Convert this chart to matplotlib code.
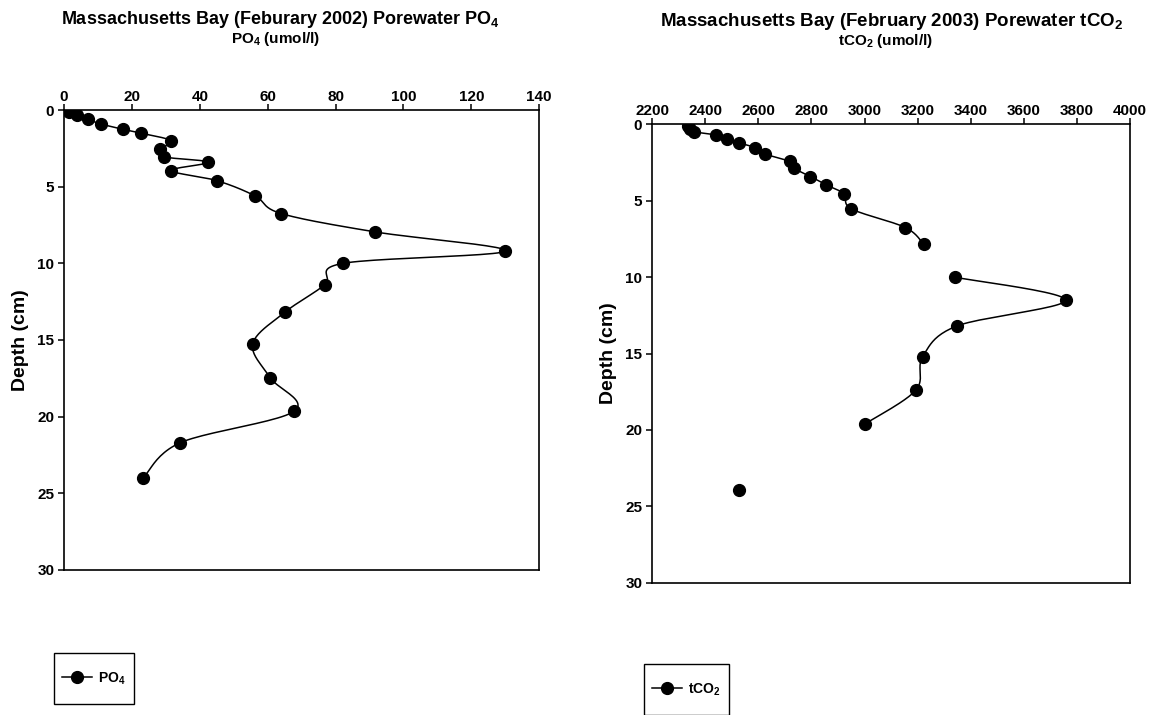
import numpy as np
import matplotlib
matplotlib.use("Agg")
import matplotlib.pyplot as plt
from matplotlib import font_manager
from matplotlib.legend_handler import HandlerLine2D

# PO4 profile, Feb 2002
po4_depth = [0.1, 0.3, 0.6, 0.9, 1.25, 1.5, 2.0, 2.55, 3.05, 3.4, 3.95, 4.6, 5.6,
             6.75, 7.95, 9.2, 10.0, 11.4, 13.2, 15.25, 17.45, 19.65, 21.7, 24.0]
po4_value = [1.5, 3.8, 7.0, 10.8, 17.3, 22.6, 31.6, 28.4, 29.5, 42.5, 31.6, 45.0, 56.3,
             64.0, 91.7, 130.0, 82.2, 76.8, 65.0, 55.6, 60.7, 67.8, 34.3, 23.4]

# tCO2 profile, Feb 2003 (nan = break in the line)
tco2_depth = [0.08, 0.29, 0.48, 0.69, 0.98, 1.22, 1.52, 1.94, 2.42, 2.85, 3.41, 3.96,
              4.55, 5.53, 6.75, 7.85, 9.0, 10.0, 11.5, 13.2, 15.2, 17.4, 19.6, 22.0, 23.9]
tco2_value = [2334, 2342, 2357, 2440, 2482, 2529, 2588, 2626, 2718, 2733, 2796, 2856,
              2923, 2951, 3154, 3223, np.nan, 3340, 3757, 3347, 3219, 3193, 3002, np.nan, 2528]

po4_ticks = [0, 20, 40, 60, 80, 100, 120, 140]
tco2_ticks = [2200, 2400, 2600, 2800, 3000, 3200, 3400, 3600, 3800, 4000]
depth_ticks = [0, 5, 10, 15, 20, 25, 30]

names = {f.name for f in font_manager.fontManager.ttflist}
narrow = "Liberation Sans Narrow" if "Liberation Sans Narrow" in names else "Liberation Sans"
plt.rcParams["font.family"] = [narrow, "DejaVu Sans"]
plt.rcParams["mathtext.fontset"] = "custom"
plt.rcParams["mathtext.rm"] = narrow + ":bold"
plt.rcParams["mathtext.default"] = "rm"


def smooth(xs, ys, xspan, yspan, n=24):
    # excel style smoothed line: bezier through points, split on nan
    xs = np.asarray(xs, float)
    ys = np.asarray(ys, float)
    out_x, out_y = [], []
    ok = ~np.isnan(xs)
    idx = np.where(ok)[0]
    groups = np.split(idx, np.where(np.diff(idx) > 1)[0] + 1)
    for g in groups:
        if len(g) < 2:
            continue
        P = np.column_stack([xs[g] / xspan, ys[g] / yspan])
        pts = [P[0]]
        t = np.linspace(0, 1, n)[1:, None]
        for i in range(len(P) - 1):
            p0 = P[i - 1] if i > 0 else P[i]
            p1, p2 = P[i], P[i + 1]
            p3 = P[i + 2] if i + 2 < len(P) else P[i + 1]
            c1 = p1 + (p2 - p0) / 6
            c2 = p2 - (p3 - p1) / 6
            b = (1 - t) ** 3 * p1 + 3 * (1 - t) ** 2 * t * c1 + 3 * (1 - t) * t ** 2 * c2 + t ** 3 * p2
            pts.extend(b)
        pts = np.array(pts)
        out_x.extend(list(pts[:, 0] * xspan) + [np.nan])
        out_y.extend(list(pts[:, 1] * yspan) + [np.nan])
    return out_x, out_y


class CenteredLine(HandlerLine2D):
    # tall handle box puts the line too high, push it down level with the label
    def create_artists(self, legend, orig_handle, xdescent, ydescent,
                       width, height, fontsize, trans):
        arts = super().create_artists(legend, orig_handle, xdescent, ydescent,
                                      width, height, fontsize, trans)
        for a in arts:
            a.set_ydata(np.asarray(a.get_ydata(), float) - 3.5)
        return arts


def style_axes(ax, xlim, xticks):
    ax.set_xlim(*xlim)
    ax.set_ylim(30, 0)
    ax.set_xticks(xticks)
    ax.set_yticks(depth_ticks)
    ax.xaxis.tick_top()
    ax.tick_params(axis="both", direction="out", length=4, width=1.1,
                   labelsize=11, pad=3)
    ax.tick_params(axis="x", pad=0.5)
    for lab in ax.get_xticklabels() + ax.get_yticklabels():
        lab.set_fontweight("bold")
    for s in ax.spines.values():
        s.set_linewidth(1.2)
    ax.set_ylabel("Depth (cm)", fontsize=14, fontweight="bold",
                  family=["Liberation Sans", "DejaVu Sans"], labelpad=6)


fig = plt.figure(figsize=(11.52, 7.15), dpi=100)

ax1 = fig.add_axes([0.0556, 0.203, 0.4124, 0.643])
ax2 = fig.add_axes([0.566, 0.185, 0.415, 0.641])

mk = dict(marker="o", markersize=8.5, color="black", linestyle="none")

sx, sy = smooth(po4_value, po4_depth, 140, 30)
ax1.plot(sx, sy, color="black", linewidth=1.1)
ax1.plot(po4_value, po4_depth, **mk)
style_axes(ax1, (0, 140), po4_ticks)

sx, sy = smooth(tco2_value, tco2_depth, 1800, 30)
ax2.plot(sx, sy, color="black", linewidth=1.1)
ax2.plot(tco2_value, tco2_depth, **mk)
style_axes(ax2, (2200, 4000), tco2_ticks)

fig.text(280 / 1152, 1 - 20 / 715, r"Massachusetts Bay (Feburary 2002) Porewater PO$_4$",
         ha="center", va="center", fontsize=13, fontweight="bold")
fig.text(276 / 1152, 1 - 39 / 715, r"PO$_4$ (umol/l)",
         ha="center", va="center", fontsize=11, fontweight="bold")
fig.text(892 / 1152, 1 - 22 / 715, r"Massachusetts Bay (February 2003) Porewater tCO$_2$",
         ha="center", va="center", fontsize=13.5, fontweight="bold")
fig.text(886 / 1152, 1 - 41 / 715, r"tCO$_2$ (umol/l)",
         ha="center", va="center", fontsize=11, fontweight="bold")

h1 = plt.Line2D([], [], color="black", marker="o", markersize=8.5, linewidth=1.1)
h2 = plt.Line2D([], [], color="black", marker="o", markersize=8.5, linewidth=1.1)
leg_kw = dict(frameon=True, fancybox=False, edgecolor="black", framealpha=1,
              handlelength=2.1, handleheight=3.4, handletextpad=0.5, borderpad=0.6,
              borderaxespad=0, prop={"weight": "bold", "size": 10},
              handler_map={plt.Line2D: CenteredLine()})
l1 = fig.legend([h1], [r"PO$_4$"], loc="upper left",
                bbox_to_anchor=(54 / 1152, 1 - 653 / 715), **leg_kw)
l2 = fig.legend([h2], [r"tCO$_2$"], loc="upper left",
                bbox_to_anchor=(644 / 1152, 1 - 664 / 715), **leg_kw)
for l in (l1, l2):
    l.get_frame().set_linewidth(1.0)

fig.savefig("out.png", dpi=100)
